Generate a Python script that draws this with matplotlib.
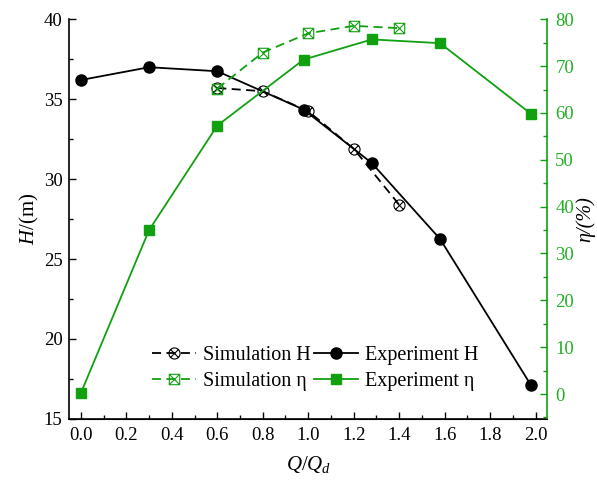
import matplotlib
matplotlib.use("Agg")
import matplotlib.pyplot as plt
from matplotlib.path import Path
from matplotlib.ticker import MultipleLocator

plt.rcParams['font.family'] = ['Liberation Serif', 'DejaVu Serif']
plt.rcParams['mathtext.fontset'] = 'custom'
plt.rcParams['mathtext.it'] = 'Liberation Serif:italic'
plt.rcParams['mathtext.rm'] = 'Liberation Serif'

# Data
exp_q = [0.0, 0.3, 0.6, 0.98, 1.28, 1.58, 1.98]
exp_h = [36.2, 37.0, 36.75, 34.35, 31.0, 26.25, 17.1]
exp_eta = [0.2, 35.0, 57.3, 71.4, 75.7, 74.9, 59.8]
sim_q = [0.6, 0.8, 1.0, 1.2, 1.4]
sim_h = [35.7, 35.5, 34.25, 31.9, 28.4]
sim_eta = [65.2, 72.9, 77.0, 78.6, 78.1]

GREEN = '#10a010'
GREEN_TXT = '#22b022'

# custom markers: circle with X, square with X
d = 0.7071
circ_x = Path.make_compound_path(
    Path.unit_circle(),
    Path([(-d, -d), (d, d)], [Path.MOVETO, Path.LINETO]),
    Path([(-d, d), (d, -d)], [Path.MOVETO, Path.LINETO]),
)
sq_x = Path.make_compound_path(
    Path([(-1, -1), (1, -1), (1, 1), (-1, 1), (-1, -1)],
         [Path.MOVETO, Path.LINETO, Path.LINETO, Path.LINETO, Path.CLOSEPOLY]),
    Path([(-1, -1), (1, 1)], [Path.MOVETO, Path.LINETO]),
    Path([(-1, 1), (1, -1)], [Path.MOVETO, Path.LINETO]),
)

fig = plt.figure(figsize=(5.97, 4.82), dpi=100)
ax = fig.add_axes([0.1164, 0.131, 0.7998, 0.829])
ax2 = ax.twinx()

l1, = ax.plot(sim_q, sim_h, linestyle=(0, (5, 3)), color='black', lw=1.3,
              marker=circ_x, markersize=8, markerfacecolor='none',
              markeredgecolor='black', markeredgewidth=0.8, label='Simulation H', zorder=3)
l2, = ax.plot(exp_q, exp_h, '-', color='black', lw=1.3, marker='o', markersize=8,
              label='Experiment H', zorder=4)
l3, = ax2.plot(sim_q, sim_eta, linestyle=(0, (5, 3)), color=GREEN, lw=1.3,
               marker=sq_x, markersize=7.5, markerfacecolor='none',
               markeredgecolor=GREEN, markeredgewidth=0.8, label='Simulation η')
l4, = ax2.plot(exp_q, exp_eta, '-', color=GREEN, lw=1.3, marker='s', markersize=7.5,
               label='Experiment η')

ax.set_xlim(-0.05, 2.05)
ax.set_ylim(15, 40)
ax2.set_ylim(-5.3, 80)

ax.xaxis.set_major_locator(MultipleLocator(0.2))
ax.xaxis.set_minor_locator(MultipleLocator(0.1))
ax.yaxis.set_major_locator(MultipleLocator(5))
ax.yaxis.set_minor_locator(MultipleLocator(2.5))
ax2.yaxis.set_major_locator(MultipleLocator(10))
ax2.yaxis.set_minor_locator(MultipleLocator(5))
ax.xaxis.set_major_formatter(matplotlib.ticker.FormatStrFormatter('%.1f'))

for a in (ax, ax2):
    a.spines['top'].set_visible(False)
ax2.spines['left'].set_visible(False)
ax.spines['right'].set_visible(False)
ax2.spines['right'].set_color(GREEN)
ax2.spines['right'].set_linewidth(1.2)
ax.spines['left'].set_linewidth(1.2)
ax.spines['bottom'].set_linewidth(1.2)

ax.tick_params(axis='both', which='major', direction='in', length=5, width=1, labelsize=13.5)
ax.tick_params(axis='both', which='minor', direction='in', length=3, width=1)
ax.tick_params(axis='x', pad=6)
ax.tick_params(axis='y', pad=5)
ax2.tick_params(axis='y', which='major', direction='in', length=5, width=1, labelsize=13.5,
                colors=GREEN, labelcolor=GREEN_TXT, pad=6)
ax2.tick_params(axis='y', which='minor', direction='in', length=3, width=1, colors=GREEN)

ax.set_xlabel(r'$\mathit{Q}$/$\mathit{Q}_{\mathit{d}}$', fontsize=15, labelpad=7)
ax.set_ylabel(r'$\mathit{H}$/(m)', fontsize=15, labelpad=2)
ax2.set_ylabel('η/(%)', fontsize=14.5, labelpad=1, fontstyle='italic')

leg = ax.legend(handles=[l1, l3, l2, l4], ncol=2, loc='lower center',
                bbox_to_anchor=(0.515, 0.025), frameon=False, fontsize=14.5,
                handlelength=2.2, handletextpad=0.35, columnspacing=0.15,
                labelspacing=0.35)

fig.savefig('out.png', dpi=100)
